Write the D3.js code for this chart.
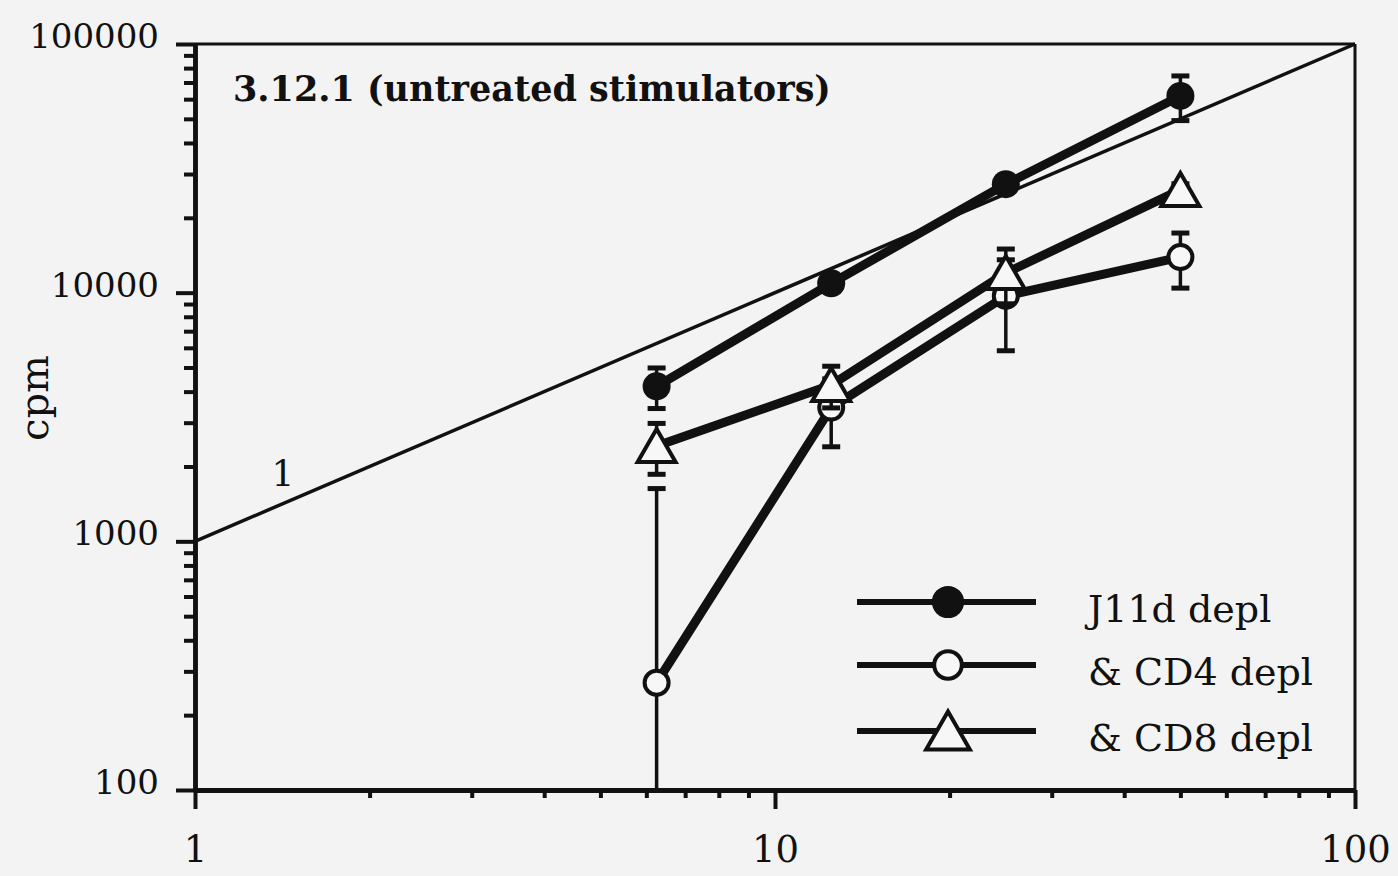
<!DOCTYPE html>
<html>
<head>
<meta charset="utf-8">
<script src="https://cdn.jsdelivr.net/npm/d3@7"></script>
<style>
  html, body { margin: 0; padding: 0; background: #f3f3f3; }
  svg { display: block; }
  text { font-family: "DejaVu Serif", "Liberation Serif", serif; fill: #111; }
</style>
</head>
<body>
<svg id="chart" width="1398" height="876"></svg>
<script>
// Responder concentration (x) and proliferation (cpm, y)
const xValues = [6.25, 12.5, 25, 50];

const j11dMean = [4200, 10900, 27300, 61800];
const j11dSd   = [780, 400, 800, 12600];

const cd4Mean  = [270, 3450, 9700, 13900];
const cd4Sd    = [1360, 1050, 3860, 3470];

const cd8Mean  = [2420, 4250, 12000, 25900];
const cd8Sd    = [560, 810, 2980, 1500];

const seriesLabels = ["J11d depl", "& CD4 depl", "& CD8 depl"];

// Slope-1 reference line: cpm = 1000 * x
const refLineX = [1, 100];
const refLineY = [1000, 100000];
const refLabel = "1";

const xTickLabels = ["1", "10", "100"];
const yTickLabels = ["100", "1000", "10000", "100000"];
const yAxisTitle = "cpm";
const chartTitle = "3.12.1 (untreated stimulators)";

const svg = d3.select("#chart");
const ink = "#111";

const plotLeft = 195, plotRight = 1355, plotTop = 44, plotBottom = 790;

const x = d3.scaleLog().domain([1, 100]).range([plotLeft, plotRight]);
const y = d3.scaleLog().domain([100, 100000]).range([plotBottom, plotTop]);

// minor tick values: 2..9 within each decade
function minorTicks(lo, hi) {
  const out = [];
  for (let d = lo; d < hi; d *= 10) for (let k = 2; k <= 9; k++) out.push(d * k);
  return out;
}

// Frame: top and right edges
svg.append("line").attr("x1", plotLeft).attr("x2", plotRight).attr("y1", plotTop).attr("y2", plotTop)
  .attr("stroke", ink).attr("stroke-width", 3);
svg.append("line").attr("x1", plotRight).attr("x2", plotRight).attr("y1", plotTop).attr("y2", plotBottom)
  .attr("stroke", ink).attr("stroke-width", 3);

// Y axis
const yMajor = yTickLabels.map(Number);
const yAxisMinor = d3.axisLeft(y).tickValues(minorTicks(100, 100000)).tickSize(11)
  .tickSizeOuter(0).tickFormat("");
const yAxisMajor = d3.axisLeft(y).tickValues(yMajor).tickSize(19).tickSizeOuter(0)
  .tickPadding(17).tickFormat((d, i) => yTickLabels[i]);
const gyMinor = svg.append("g").attr("transform", `translate(${plotLeft},0)`).call(yAxisMinor);
const gyMajor = svg.append("g").attr("transform", `translate(${plotLeft},0)`).call(yAxisMajor);
[gyMinor, gyMajor].forEach(g => {
  g.select(".domain").attr("stroke", ink).attr("stroke-width", 4.5);
  g.selectAll(".tick line").attr("stroke", ink).attr("stroke-width", 4);
});
gyMajor.selectAll(".tick text").attr("font-size", 34).attr("dy", "0.1em")
  .style("font-family", "'DejaVu Serif', serif").attr("fill", ink);

// X axis
const xMajor = xTickLabels.map(Number);
const xAxisMinor = d3.axisBottom(x).tickValues(minorTicks(1, 100)).tickSize(8)
  .tickSizeOuter(0).tickFormat("");
const xAxisMajor = d3.axisBottom(x).tickValues(xMajor).tickSize(19).tickSizeOuter(0)
  .tickPadding(27).tickFormat((d, i) => xTickLabels[i]);
const gxMinor = svg.append("g").attr("transform", `translate(0,${plotBottom})`).call(xAxisMinor);
const gxMajor = svg.append("g").attr("transform", `translate(0,${plotBottom})`).call(xAxisMajor);
[gxMinor, gxMajor].forEach(g => {
  g.select(".domain").attr("stroke", ink).attr("stroke-width", 5);
  g.selectAll(".tick line").attr("stroke", ink).attr("stroke-width", 4);
});
gxMajor.selectAll(".tick text").attr("font-size", 37)
  .style("font-family", "'DejaVu Serif', serif").attr("fill", ink);

// Axis title
svg.append("text").attr("transform", "translate(48,398) rotate(-90)")
  .attr("text-anchor", "middle").attr("font-size", 40).text(yAxisTitle);

// Chart title
svg.append("text").attr("x", 233).attr("y", 101).attr("font-size", 35)
  .attr("font-weight", "bold").text(chartTitle);

// Reference line
svg.append("line")
  .attr("x1", x(refLineX[0])).attr("y1", y(refLineY[0]))
  .attr("x2", x(refLineX[1])).attr("y2", y(refLineY[1]))
  .attr("stroke", ink).attr("stroke-width", 3.5);
svg.append("text").attr("x", 283).attr("y", 486).attr("text-anchor", "middle")
  .attr("font-size", 36).text(refLabel);

// Series
const series = [
  { mean: cd4Mean, sd: cd4Sd, marker: "open" },
  { mean: cd8Mean, sd: cd8Sd, marker: "triangle" },
  { mean: j11dMean, sd: j11dSd, marker: "filled" }
];

const lineGen = d3.line().x(d => x(d.x)).y(d => y(d.v));

function drawMarker(g, type, cx, cy, scale) {
  const s = scale || 1;
  if (type === "filled") {
    g.append("circle").attr("cx", cx).attr("cy", cy).attr("r", 14 * s).attr("fill", ink);
  } else if (type === "open") {
    g.append("circle").attr("cx", cx).attr("cy", cy).attr("r", 12 * s)
      .attr("fill", "#f7f7f7").attr("stroke", ink).attr("stroke-width", 4);
  } else {
    const w = 19 * s, hUp = 17 * s, hDn = 16 * s;
    g.append("path")
      .attr("d", `M${cx},${cy - hUp}L${cx + w},${cy + hDn}L${cx - w},${cy + hDn}Z`)
      .attr("fill", "#f7f7f7").attr("stroke", ink).attr("stroke-width", 4)
      .attr("stroke-linejoin", "miter");
  }
}

series.forEach(s => {
  const g = svg.append("g");
  const pts = xValues.map((xv, i) => ({ x: xv, v: s.mean[i], sd: s.sd[i] }));

  // error bars (mean ± sd); bars running below the axis minimum stop at the axis
  pts.forEach(p => {
    const hi = p.v + p.sd, lo = p.v - p.sd;
    const cx = x(p.x);
    const yHi = y(hi);
    const loOff = lo <= y.domain()[0];
    const yLo = loOff ? plotBottom : y(lo);
    g.append("line").attr("x1", cx).attr("x2", cx).attr("y1", yHi).attr("y2", yLo)
      .attr("stroke", ink).attr("stroke-width", 3.5);
    g.append("line").attr("x1", cx - 9).attr("x2", cx + 9).attr("y1", yHi).attr("y2", yHi)
      .attr("stroke", ink).attr("stroke-width", 5);
    if (!loOff) {
      g.append("line").attr("x1", cx - 9).attr("x2", cx + 9).attr("y1", yLo).attr("y2", yLo)
        .attr("stroke", ink).attr("stroke-width", 5);
    }
  });

  g.append("path").datum(pts).attr("d", lineGen)
    .attr("fill", "none").attr("stroke", ink).attr("stroke-width", 9)
    .attr("stroke-linejoin", "round");

  pts.forEach(p => drawMarker(g, s.marker, x(p.x), y(p.v), 1));
});

// Legend
const legendRows = [
  { label: seriesLabels[0], marker: "filled" },
  { label: seriesLabels[1], marker: "open" },
  { label: seriesLabels[2], marker: "triangle" }
];
const legendY = [602, 665, 731];
legendRows.forEach((r, i) => {
  const g = svg.append("g");
  const ly = legendY[i];
  g.append("line").attr("x1", 857).attr("x2", 1036).attr("y1", ly).attr("y2", ly)
    .attr("stroke", ink).attr("stroke-width", 6);
  drawMarker(g, r.marker, 948, ly, 1.15);
  g.append("text").attr("x", 1088).attr("y", ly + 20).attr("font-size", 38).text(r.label);
});
</script>
</body>
</html>
